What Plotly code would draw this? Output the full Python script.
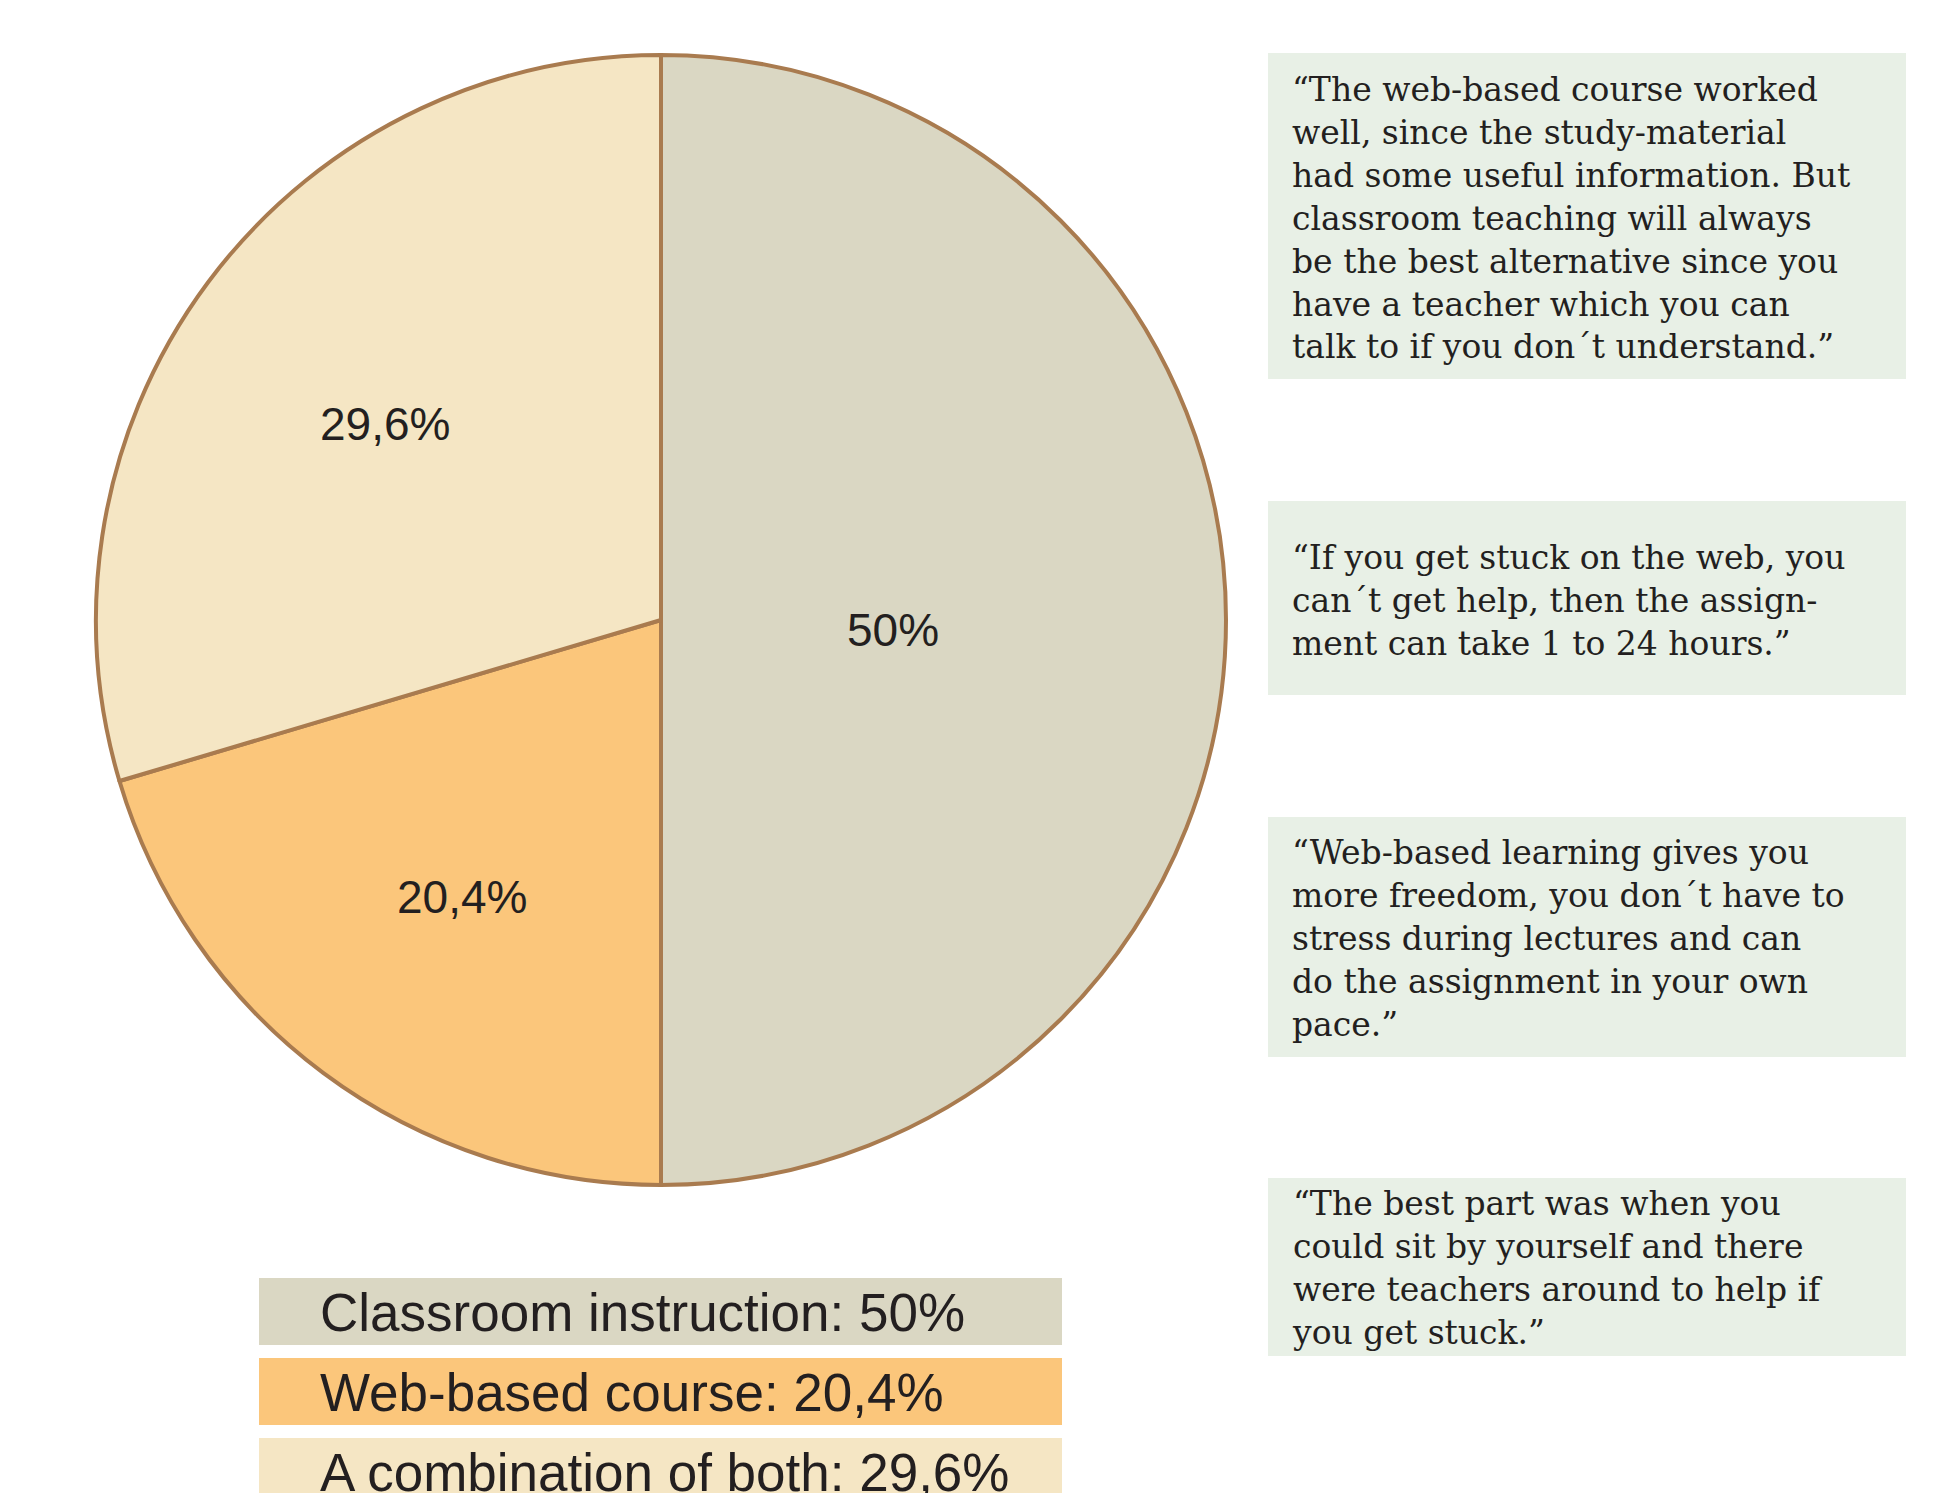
import math
import plotly.graph_objects as go

W, H = 1936, 1493

categories = ["Classroom instruction", "Web-based course", "A combination of both"]
values = [50, 20.4, 29.6]
colors = ["#DAD7C3", "#FBC67B", "#F5E6C4"]

quotes = [
    "“The web-based course worked<br>well, since the study-material<br>had some useful information. But<br>classroom teaching will always<br>be the best alternative since you<br>have a teacher which you can<br>talk to if you don´t understand.”",
    "“If you get stuck on the web, you<br>can´t get help, then the assign-<br>ment can take 1 to 24 hours.”",
    "“Web-based learning gives you<br>more freedom, you don´t have to<br>stress during lectures and can<br>do the assignment in your own<br>pace.”",
    "“The best part was when you<br>could sit by yourself and there<br>were teachers around to help if<br>you get stuck.”",
]
# quote box extents (pixels, top/bottom) and text centre
quote_boxes = [(53, 379, 218), (501, 695, 600), (817, 1057, 938), (1178, 1356, 1268)]
legend_boxes = [(1278, 1345), (1358, 1425), (1438, 1505)]
# radial position of each slice label, as a fraction of the radius (style)
label_radius = [0.41, 0.59, 0.61]


def fmt(v):
    return f"{v:g}".replace(".", ",") + "%"


def px(x):
    return x / W


def py(y):
    return 1 - y / H


cx, cy, r = 661, 620, 565

fig = go.Figure()
fig.add_trace(go.Pie(
    labels=categories,
    values=values,
    textinfo="none",
    sort=False,
    direction="clockwise",
    rotation=0,
    marker=dict(colors=colors, line=dict(color="#A97B4F", width=4)),
    domain=dict(x=[px(cx - r), px(cx + r)], y=[py(cy + r), py(cy - r)]),
    showlegend=False,
    hoverinfo="label+percent",
))

shapes = []
annotations = []

# slice labels at the mid-angle of each slice
total = sum(values)
cum = 0.0
for v, f in zip(values, label_radius):
    th = 2 * math.pi * (cum + v / 2) / total
    cum += v
    lx = cx + f * r * math.sin(th)
    ly = cy - f * r * math.cos(th) + 10
    annotations.append(dict(text=fmt(v), xref="paper", yref="paper", x=px(lx), y=py(ly),
                            xanchor="center", yanchor="middle", showarrow=False,
                            font=dict(family="Liberation Sans, Arial, sans-serif", size=46, color="#231F20")))

for q, (t, b, c) in zip(quotes, quote_boxes):
    shapes.append(dict(type="rect", xref="paper", yref="paper",
                       x0=px(1268), x1=px(1906), y0=py(b), y1=py(t),
                       fillcolor="#E8F0E6", line=dict(width=0), layer="below"))
    annotations.append(dict(text=q, xref="paper", yref="paper", x=px(1290), y=py(c),
                            xanchor="left", yanchor="middle", align="left", showarrow=False,
                            font=dict(family="DejaVu Serif, serif", size=33, color="#231F20")))

for cat, v, col, (t, b) in zip(categories, values, colors, legend_boxes):
    shapes.append(dict(type="rect", xref="paper", yref="paper",
                       x0=px(259), x1=px(1062), y0=py(b), y1=py(t),
                       fillcolor=col, line=dict(width=0), layer="below"))
    annotations.append(dict(text=f"{cat}: {fmt(v)}", xref="paper", yref="paper",
                            x=px(318), y=py((t + b) / 2 + 1),
                            xanchor="left", yanchor="middle", align="left", showarrow=False,
                            font=dict(family="Liberation Sans, Arial, sans-serif", size=53, color="#231F20")))

fig.update_layout(
    width=W, height=H,
    margin=dict(l=0, r=0, t=0, b=0),
    paper_bgcolor="white", plot_bgcolor="white",
    shapes=shapes, annotations=annotations,
)

fig.write_html("out.html", config={"displayModeBar": False},
               post_script="document.body.style.margin='0';document.body.style.overflow='hidden';")
